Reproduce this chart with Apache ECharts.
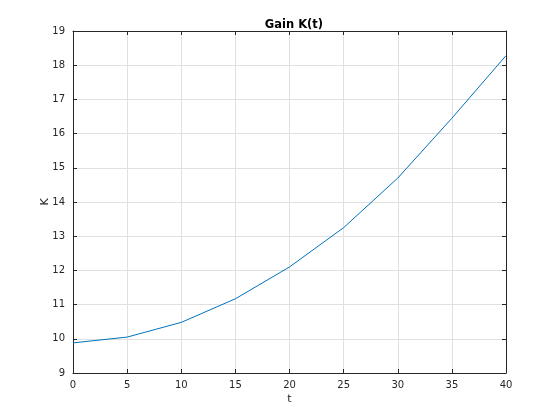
<!DOCTYPE html>
<html>
<head>
<meta charset="utf-8">
<script src="https://cdn.jsdelivr.net/npm/echarts@6/dist/echarts.min.js"></script>
<style>html,body{margin:0;padding:0;background:#fff}#c{width:560px;height:420px}</style>
</head>
<body>
<div id="c"></div>
<script>
const tValues = [0, 5, 10, 15, 20, 25, 30, 35, 40];
const kValues = [9.88, 10.05, 10.48, 11.17, 12.10, 13.25, 14.70, 16.45, 18.28];
const titleText = 'Gain K(t)';
const xLabel = 't';
const yLabel = 'K';

const font = 'DejaVu Sans';
const axisColor = '#262626';
const gridColor = '#e0e0e0';
const chart = echarts.init(document.getElementById('c'), null, {renderer: 'canvas'});
const baseX = {
  type: 'value', min: 0, max: 40, interval: 5,
  axisLine: {show: true, onZero: false, lineStyle: {color: axisColor, width: 1}},
  axisTick: {show: true, inside: true, length: 4, lineStyle: {color: axisColor}},
};
const baseY = {
  type: 'value', min: 9, max: 19, interval: 1,
  axisLine: {show: true, onZero: false, lineStyle: {color: axisColor, width: 1}},
  axisTick: {show: true, inside: true, length: 4, lineStyle: {color: axisColor}},
};
chart.setOption({
  animation: false,
  title: {text: titleText, left: 289, textAlign: 'center', top: 14,
    textStyle: {fontFamily: font, fontSize: 11.5, fontWeight: 'bold', color: '#000'}},
  grid: {left: 73, right: 54, top: 31, bottom: 47, containLabel: false},
  xAxis: [
    Object.assign({}, baseX, {position: 'bottom', name: xLabel, nameLocation: 'middle', nameGap: 21,
      nameMoveOverlap: false,
      nameTextStyle: {fontFamily: font, fontSize: 11, color: axisColor},
      axisLabel: {show: true, fontFamily: font, fontSize: 10, color: axisColor, margin: 7},
      splitLine: {show: true, lineStyle: {color: gridColor, width: 1}}}),
    Object.assign({}, baseX, {position: 'top', axisLabel: {show: false}, splitLine: {show: false}})
  ],
  yAxis: [
    Object.assign({}, baseY, {position: 'left', name: yLabel, nameLocation: 'middle', nameGap: 22,
      nameMoveOverlap: false,
      nameTextStyle: {fontFamily: font, fontSize: 11, color: axisColor},
      axisLabel: {show: true, fontFamily: font, fontSize: 10, color: axisColor, margin: 8},
      splitLine: {show: true, lineStyle: {color: gridColor, width: 1}}}),
    Object.assign({}, baseY, {position: 'right', axisLabel: {show: false}, splitLine: {show: false}})
  ],
  series: [{
    type: 'line', xAxisIndex: 0, yAxisIndex: 0,
    data: tValues.map((t, i) => [t, kValues[i]]),
    showSymbol: false, smooth: false,
    lineStyle: {color: '#0072bd', width: 1},
    itemStyle: {color: '#0072bd'}
  }]
});
</script>
</body>
</html>
